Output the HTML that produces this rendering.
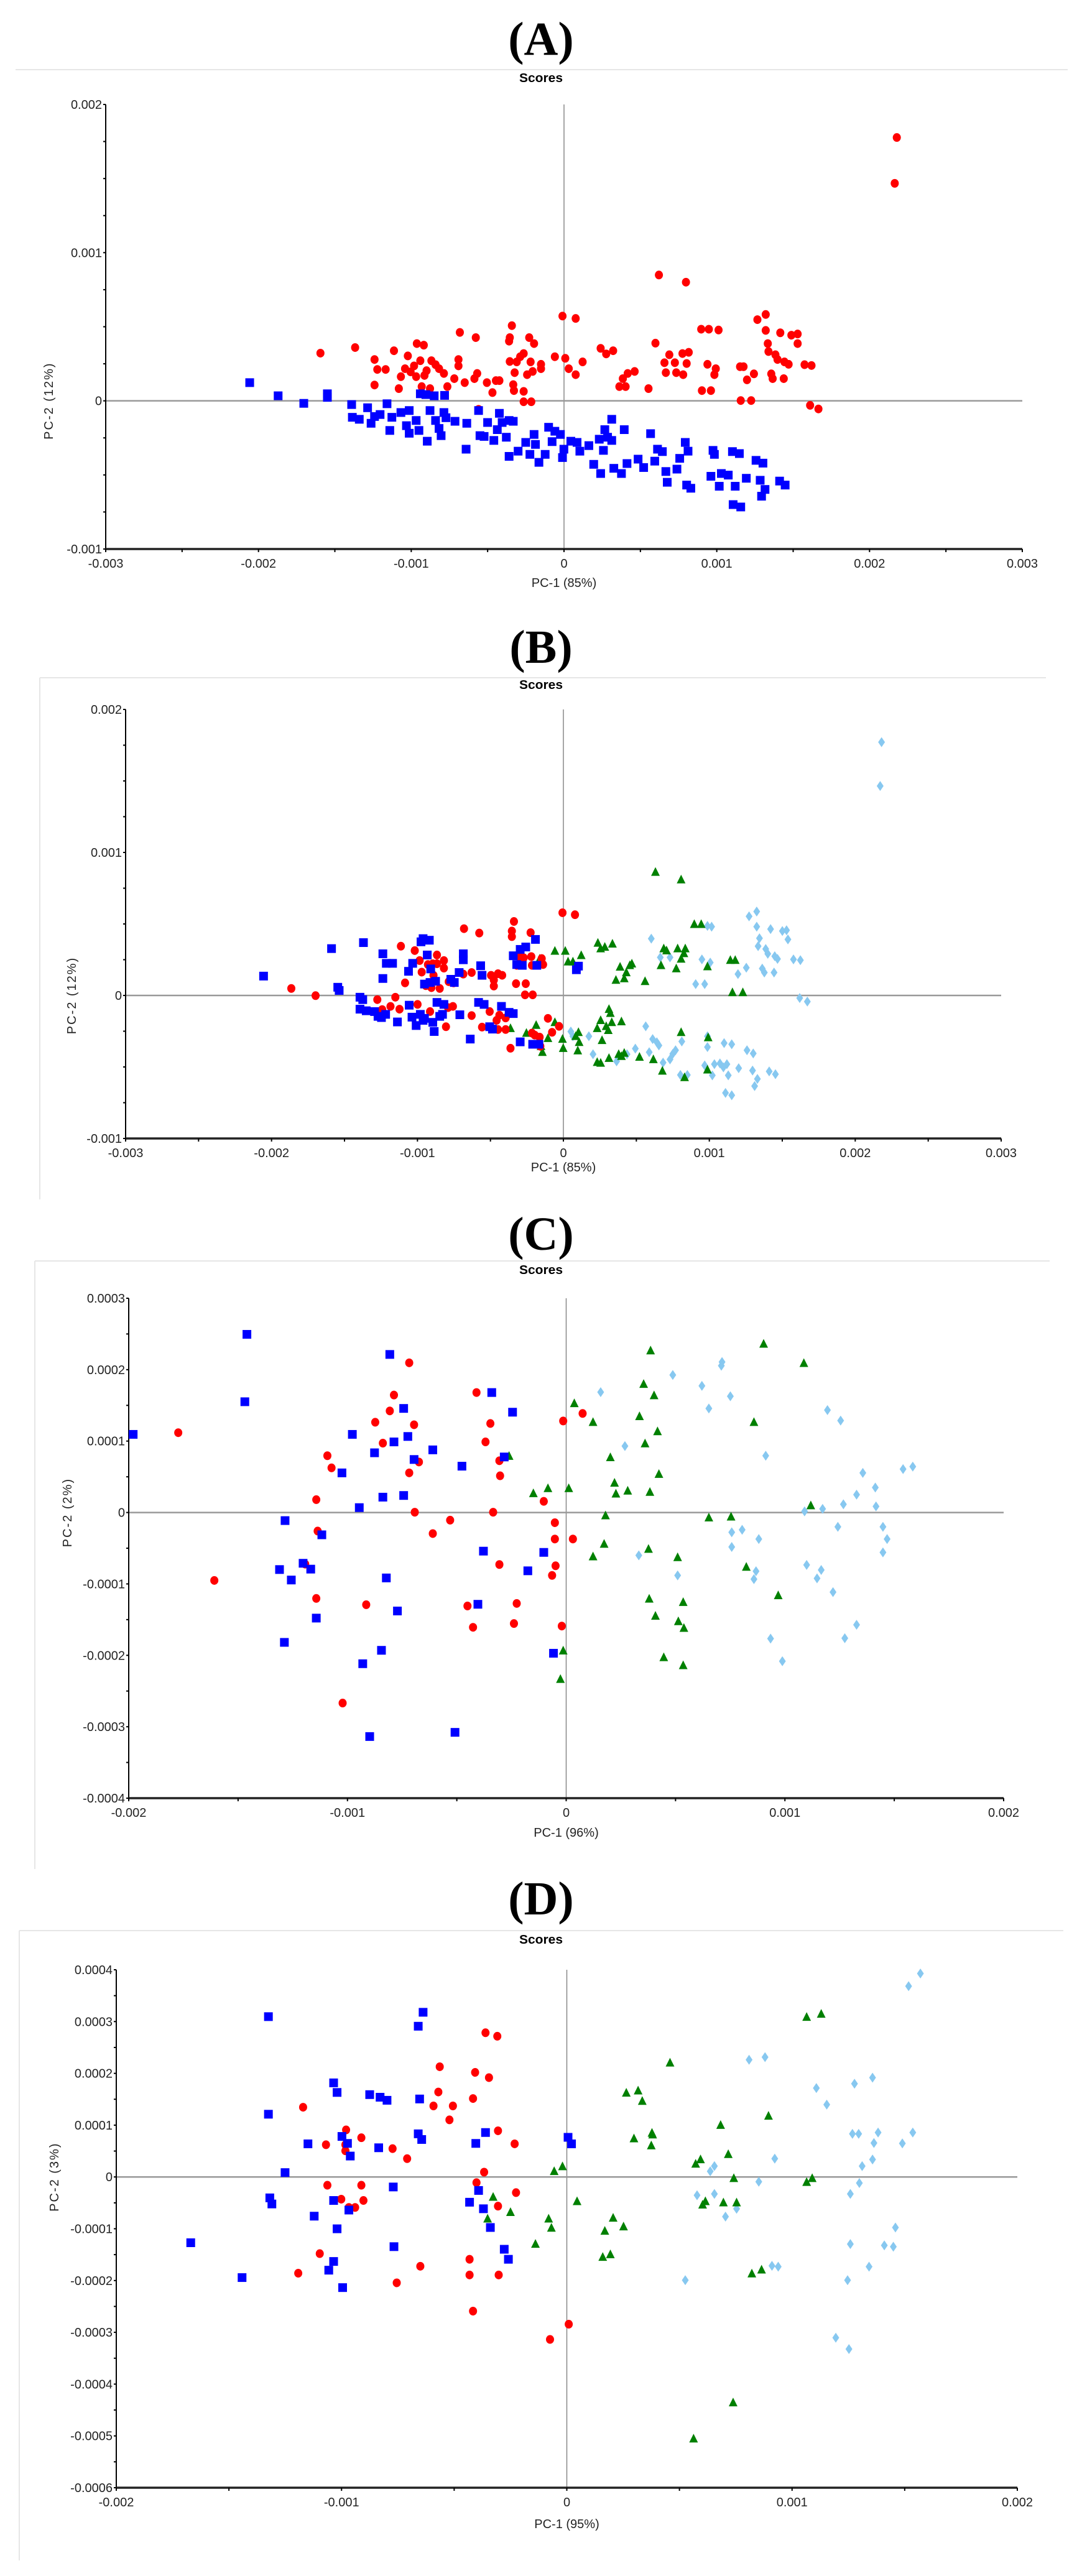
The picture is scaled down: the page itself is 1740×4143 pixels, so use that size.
<!DOCTYPE html>
<html><head><meta charset="utf-8"><style>
html,body{margin:0;padding:0;background:#fff;}
svg{display:block;}
</style></head><body>
<svg id="s" width="1740" height="4143" xmlns="http://www.w3.org/2000/svg" font-family="Liberation Sans, sans-serif"></svg>
<script>
var s=document.getElementById('s');var out='';
function P(cfg){
  var sx=1740/1560, sy=cfg.H/1560, off=cfg.off;
  function X(v){return cfg.x0+(v-cfg.xmin)/(cfg.xmax-cfg.xmin)*(cfg.x1-cfg.x0);}
  function Y(v){return cfg.yB+(v-cfg.ymin)/(cfg.ymax-cfg.ymin)*(cfg.yT-cfg.yB);}
  // title
  out+='<text x="870" y="'+(cfg.tY+24)+'" text-anchor="middle" font-family="Liberation Serif, serif" font-weight="bold" font-size="76">('+cfg.name+')</text>';
  out+='<line x1="'+cfg.fx0+'" y1="'+cfg.fy+'" x2="'+cfg.fx1+'" y2="'+cfg.fy+'" stroke="#e6e6e6" stroke-width="2"/>';
  if(cfg.fl) out+='<line x1="'+cfg.fx0+'" y1="'+cfg.fy+'" x2="'+cfg.fx0+'" y2="'+cfg.fl+'" stroke="#e6e6e6" stroke-width="2"/>';
  out+='<text x="870" y="'+(cfg.sY+7)+'" text-anchor="middle" font-weight="bold" font-size="20" textLength="70" lengthAdjust="spacingAndGlyphs">Scores</text>';
  // zero lines
  var zx=X(0), zy=Y(0);
  out+='<line x1="'+zx+'" y1="'+cfg.yT+'" x2="'+zx+'" y2="'+cfg.yB+'" stroke="#888" stroke-width="1.5"/>';
  out+='<line x1="'+cfg.x0+'" y1="'+zy+'" x2="'+cfg.x1+'" y2="'+zy+'" stroke="#999" stroke-width="2.5"/>';
  // axes
  out+='<line x1="'+cfg.x0+'" y1="'+cfg.yT+'" x2="'+cfg.x0+'" y2="'+cfg.yB+'" stroke="#000" stroke-width="2"/>';
  out+='<line x1="'+cfg.x0+'" y1="'+cfg.yB+'" x2="'+cfg.x1+'" y2="'+cfg.yB+'" stroke="#222" stroke-width="3.5"/>';
  // x ticks
  var n=Math.round((cfg.xmax-cfg.xmin)/cfg.xs);
  for(var i=0;i<=n*2;i++){var v=cfg.xmin+i*cfg.xs/2;var px=X(v);
    out+='<line x1="'+px+'" y1="'+cfg.yB+'" x2="'+px+'" y2="'+(cfg.yB+5)+'" stroke="#000" stroke-width="2"/>';
    if(i%2==0){var lab=cfg.xl[i/2];out+='<text x="'+px+'" y="'+(cfg.yB+30)+'" text-anchor="middle" font-size="20" fill="#222">'+lab+'</text>';}}
  var m=Math.round((cfg.ymax-cfg.ymin)/cfg.ys);
  for(var j=0;j<=m*cfg.ym;j++){var v2=cfg.ymin+j*cfg.ys/cfg.ym;var py=Y(v2);
    out+='<line x1="'+(cfg.x0-4)+'" y1="'+py+'" x2="'+cfg.x0+'" y2="'+py+'" stroke="#000" stroke-width="2"/>';
    if(j%cfg.ym==0){var l2=cfg.yl[j/cfg.ym];out+='<text x="'+(cfg.x0-6)+'" y="'+(py+7)+'" text-anchor="end" font-size="20" fill="#222">'+l2+'</text>';}}
  out+='<text x="'+((cfg.x0+cfg.x1)/2)+'" y="'+(cfg.pcY+7)+'" text-anchor="middle" font-size="20" fill="#222">'+cfg.px+'</text>';
  out+='<text transform="translate('+(cfg.pcX+7)+','+zy+') rotate(-90)" text-anchor="middle" font-size="20" fill="#222" letter-spacing="2">'+cfg.py+'</text>';
  // points
  function pts(arr,type){for(var k=0;k<arr.length;k+=2){var x=arr[k]*sx,y=off+arr[k+1]*sy;
    if(type=='b')out+='<rect x="'+(x-7)+'" y="'+(y-7)+'" width="14" height="14" fill="#0000ff"/>';
    else if(type=='r')out+='<ellipse cx="'+x+'" cy="'+y+'" rx="6.5" ry="7" fill="#ff0000"/>';
    else if(type=='g')out+='<polygon points="'+x+','+(y-8)+' '+(x+7)+','+(y+6)+' '+(x-7)+','+(y+6)+'" fill="#008000"/>';
    else out+='<polygon points="'+x+','+(y-8)+' '+(x+5.5)+','+y+' '+x+','+(y+8)+' '+(x-5.5)+','+y+'" fill="#87c8f0"/>';}}
  for(var t in cfg.d)pts(cfg.d[t],t);
}
var XL3=['-0.003','-0.002','-0.001','0','0.001','0.002','0.003'];
var XL2=['-0.002','-0.001','0','0.001','0.002'];
P({name:'A',off:0,H:1000,x0:170,x1:1644,yT:168,yB:883,xmin:-0.003,xmax:0.003,ymin:-0.001,ymax:0.002,xs:0.001,ys:0.001,ym:4,
xl:XL3,yl:['-0.001','0','0.001','0.002'],tY:64,sY:125,fy:112,fx0:25,fx1:1717,fl:0,pcY:937,pcX:78,px:'PC-1 (85%)',py:'PC-2 (12%)',
d:{r:[1293,345,1290,460,950,690,989,708,811,793,830,799,1104,789,1092,802,738,817,663,834,686,847,735,847,763,847,1011,826,1022,826,1036,828,1104,829,1125,835,1141,841,1150,838,945,861,1150,862,770,862,734,856,601,862,611,866,512,872,462,886,568,880,866,874,884,880,874,888,965,890,993,884,984,887,1107,862,1108,882,1118,890,1121,902,1131,908,1137,914,540,902,588,893,606,905,597,918,622,905,628,915,661,902,661,918,735,907,745,908,755,887,750,895,765,908,780,914,780,925,800,895,815,899,840,908,820,925,830,940,958,910,973,910,990,912,1020,914,1067,920,1072,920,544,927,556,927,584,925,592,933,615,930,633,925,578,945,600,945,612,942,640,937,655,950,688,937,684,950,702,960,715,955,720,955,742,935,760,940,768,932,905,937,915,932,898,950,960,935,975,935,985,940,1032,925,1030,940,1087,938,1077,953,1112,938,1114,950,1130,950,1160,915,1170,917,540,966,575,975,608,970,620,975,645,970,670,960,710,985,740,965,741,980,755,982,893,970,902,970,935,975,1012,980,1025,980,1068,1005,1083,1005,755,1008,766,1008,690,1027,1168,1017,1180,1026],
b:[360,960,401,993,438,1012,472,988,472,997,507,1015,508,1047,530,1023,518,1052,535,1062,540,1045,548,1040,558,1013,565,1047,562,1080,578,1035,590,1030,586,1068,590,1087,600,1055,604,1080,606,988,614,990,626,993,641,992,616,1107,620,1030,628,1055,633,1075,636,1093,640,1035,643,1048,656,1057,673,1062,672,1127,690,1030,692,1093,698,1095,703,1060,712,1105,717,1078,720,1037,724,1060,730,1097,734,1145,734,1055,740,1057,747,1132,758,1110,764,1140,770,1090,772,1115,777,1160,786,1140,791,1072,796,1108,800,1082,808,1090,811,1148,813,1127,823,1107,832,1110,836,1132,849,1118,856,1165,864,1102,866,1188,870,1130,872,1078,876,1097,882,1052,882,1105,885,1175,896,1188,900,1078,904,1163,920,1152,928,1173,938,1088,944,1157,948,1127,955,1133,960,1183,962,1210,976,1177,980,1150,988,1110,992,1132,990,1217,996,1225,1028,1130,1030,1140,1025,1195,1037,1220,1040,1188,1050,1192,1056,1133,1060,1220,1066,1138,1057,1266,1068,1272,1076,1200,1090,1155,1096,1205,1100,1162,1098,1245,1103,1228,1124,1207,1132,1217]}});
P({name:'B',off:1000,H:1000,x0:202,x1:1610,yT:1141,yB:1831,xmin:-0.003,xmax:0.003,ymin:-0.001,ymax:0.002,xs:0.001,ys:0.001,ym:4,
xl:XL3,yl:['-0.001','0','0.001','0.002'],tY:1042,sY:1101,fy:1090,fx0:64,fx1:1682,fl:1929,pcY:1877,pcX:115,px:'PC-1 (85%)',py:'PC-2 (12%)',
d:{l:[1271,302,1269,412,1091,727,1080,739,1091,765,1020,763,1026,765,1111,771,1128,776,1134,774,1136,797,1095,794,1093,814,1104,821,1107,833,1117,839,1121,846,1144,847,1154,849,939,795,952,842,966,842,1012,847,1024,855,1076,868,1064,884,1099,870,1102,880,1116,880,1003,909,1016,909,1153,944,1164,953,823,1028,826,1040,849,1040,855,1085,889,1103,904,1085,916,1071,931,1015,941,1047,947,1055,950,1063,936,1080,956,1106,966,1098,970,1084,974,1075,983,1053,981,1137,991,1137,1020,1040,1020,1067,1016,1113,1027,1138,1030,1110,1038,1108,1043,1118,1048,1110,1050,1138,1046,1182,1055,1188,1055,1060,1044,1057,1065,1120,1077,1075,1086,1083,1085,1126,1092,1147,1088,1165,1109,1128,1118,1135],
g:[945,628,982,647,1001,759,1011,759,862,806,866,820,872,816,883,808,800,826,815,826,838,837,778,846,819,853,826,853,957,820,961,825,977,820,988,820,986,832,982,846,1053,849,1060,849,894,866,908,862,911,858,903,880,888,899,900,895,930,902,953,862,975,870,1020,865,1056,930,1071,930,878,972,880,982,866,1000,874,1015,877,1025,882,1005,896,1003,861,1020,868,1050,834,1030,830,1040,835,1055,833,1076,812,1070,811,1047,800,1005,773,1012,790,1045,759,1032,736,1020,780,1065,782,1080,861,1105,866,1107,878,1095,892,1085,896,1090,900,1082,922,1092,942,1098,955,1127,982,1030,987,1143,1021,1043,1020,1124],
r:[811,730,829,735,741,752,669,770,691,781,738,776,738,790,765,780,578,814,598,825,605,850,640,850,630,836,617,860,624,858,630,858,608,879,640,869,625,887,584,906,614,913,622,918,634,920,647,903,654,906,668,884,680,880,708,887,712,899,712,914,718,883,724,887,745,862,748,840,755,843,766,840,767,862,781,845,783,860,744,908,758,908,757,936,768,936,420,920,455,938,544,948,570,942,563,965,551,973,550,985,576,972,602,960,620,978,646,968,653,965,643,1016,680,988,706,978,720,987,716,1000,729,994,695,1017,718,1023,729,1023,736,1070,767,1032,771,1037,778,1042,779,1065,790,995,796,1030,806,1015],
b:[380,889,478,820,524,805,487,917,489,925,519,942,523,948,552,833,557,857,566,857,552,895,589,877,595,857,607,803,610,795,619,799,616,836,612,909,620,905,628,902,621,871,650,897,655,905,662,880,668,833,668,848,693,863,695,887,740,838,750,822,758,816,772,797,745,860,753,862,774,862,834,864,831,873,519,972,528,976,540,978,545,990,550,993,556,985,573,1004,590,962,594,992,600,1013,606,985,610,1000,612,995,624,1005,626,1028,630,955,634,990,638,985,640,960,663,986,690,955,698,960,706,1016,710,1022,723,965,734,980,740,983,678,1047,750,1054,768,1060,777,1060]}});
P({name:'C',off:2000,H:1050,x0:207,x1:1614,yT:2088,yB:2892,xmin:-0.002,xmax:0.002,ymin:-0.0004,ymax:0.0003,xs:0.001,ys:0.0001,ym:2,
xl:XL2,yl:['-0.0004','-0.0003','-0.0002','-0.0001','0','0.0001','0.0002','0.0003'],tY:1986,sY:2042,fy:2028,fx0:56,fx1:1688,fl:3006,pcY:2947,pcX:108,px:'PC-1 (96%)',py:'PC-2 (2%)',
d:{l:[866,355,970,314,1041,283,1040,292,1012,340,1022,394,1053,365,1193,398,1212,423,901,484,1104,507,1244,548,1302,539,1316,533,1262,583,1235,600,1216,623,1263,628,1186,634,1160,640,1208,677,1273,677,1279,706,1273,738,1055,690,1070,684,1094,706,1055,725,921,745,977,793,1090,783,1087,802,1163,768,1184,780,1178,800,1201,833,1235,911,1218,943,1111,944,1128,998],
g:[938,256,1101,240,1159,286,928,336,943,363,828,382,922,413,855,427,1087,427,948,449,930,478,880,511,734,508,950,551,886,572,888,598,905,591,937,594,769,597,790,585,820,585,873,650,1022,655,1054,653,1169,626,871,718,935,730,855,748,977,750,1076,773,1122,841,936,849,985,857,945,890,978,903,986,919,957,989,985,1008,812,973,808,1041],
r:[257,452,309,805,590,285,568,362,562,400,541,427,552,477,597,433,687,356,707,430,700,474,720,519,721,555,590,548,604,522,472,507,478,536,456,612,598,642,711,642,649,661,624,693,458,687,440,766,456,848,528,863,494,1098,674,866,682,917,745,860,741,908,720,767,812,424,840,406,784,616,800,667,800,706,826,706,801,770,796,793,810,914],
b:[356,217,353,378,192,456,562,265,582,394,588,461,568,474,540,500,508,456,493,548,597,516,624,493,666,532,709,356,739,403,727,510,552,606,582,602,518,631,411,662,464,696,437,764,448,778,403,779,420,804,557,799,573,878,456,895,410,953,550,972,523,1004,533,1178,656,1168,697,735,689,862,761,782,784,738,798,979]}});
P({name:'D',off:3050,H:1093,x0:187,x1:1636,yT:3168,yB:4001,xmin:-0.002,xmax:0.002,ymin:-0.0006,ymax:0.0004,xs:0.001,ys:0.0001,ym:2,
xl:XL2,yl:['-0.0006','-0.0005','-0.0004','-0.0003','-0.0002','-0.0001','0','0.0001','0.0002','0.0003','0.0004'],tY:3055,sY:3119,fy:3105,fx0:31,fx1:1710,fl:4118,pcY:4059,pcX:87,px:'PC-1 (95%)',py:'PC-2 (3%)',
d:{l:[1327,177,1310,206,1080,375,1103,369,1258,416,1232,430,1177,440,1192,478,1229,545,1238,545,1266,542,1316,542,1260,566,1301,567,1117,602,1258,604,1243,619,1030,619,1024,631,1094,655,1239,658,1226,683,1005,686,1030,683,1062,717,1046,735,1291,760,1226,798,1275,801,1288,804,1253,850,1222,881,1113,848,1122,850,988,881,1205,1013,1224,1039],
g:[1163,277,1184,270,966,382,903,451,920,446,926,470,1108,504,1039,525,914,556,940,543,941,547,939,572,1050,592,1003,614,1010,604,811,620,799,631,1058,647,1163,656,1171,647,711,690,832,700,1013,708,1017,700,1043,703,1062,703,703,740,736,725,791,740,795,761,884,738,872,768,899,758,772,798,869,828,880,822,1084,866,1098,857,1057,1162,1000,1245],
r:[700,313,717,321,634,391,685,404,705,416,632,449,682,464,625,481,653,481,437,484,648,513,499,536,521,554,470,570,498,570,498,584,566,579,587,602,718,538,742,568,698,633,687,657,744,680,472,663,521,663,492,695,524,698,503,714,512,714,718,711,461,820,430,865,572,887,606,849,677,833,677,869,719,869,682,952,820,982,793,1017],
b:[387,276,610,266,603,298,481,428,486,450,533,455,548,461,558,468,605,465,387,500,444,568,493,551,501,567,505,596,546,577,603,545,608,558,700,542,686,567,819,553,824,568,411,634,389,692,392,706,481,698,567,667,453,734,486,763,503,720,677,702,690,675,697,717,707,760,727,810,733,833,568,804,481,838,474,858,494,898,275,795,349,875]}});
s.innerHTML=out;
</script>
</body></html>
